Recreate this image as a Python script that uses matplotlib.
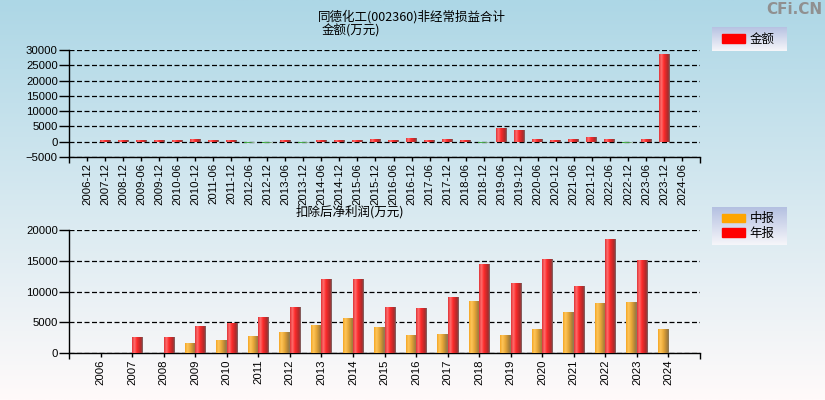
import numpy as np
import matplotlib
matplotlib.use("Agg")
import matplotlib.pyplot as plt
from matplotlib.colors import LinearSegmentedColormap
from matplotlib.patches import Patch

plt.rcParams['font.family'] = ['Noto Sans CJK SC', 'DejaVu Sans']

# ---------------- data ----------------
periods = ["2006-12", "2007-12", "2008-12", "2009-06", "2009-12", "2010-06", "2010-12",
           "2011-06", "2011-12", "2012-06", "2012-12", "2013-06", "2013-12", "2014-06",
           "2014-12", "2015-06", "2015-12", "2016-06", "2016-12", "2017-06", "2017-12",
           "2018-06", "2018-12", "2019-06", "2019-12", "2020-06", "2020-12", "2021-06",
           "2021-12", "2022-06", "2022-12", "2023-06", "2023-12", "2024-06"]
nonrecurring = [np.nan, 440, 440, 440, 440, 440, 760,
                440, 440, -440, -440, 440, -440, 440,
                440, 440, 760, 440, 1090, 440, 760,
                440, -440, 4360, 3920, 760, 440, 760,
                1420, 760, -440, 760, 28800, np.nan]

years = ["2006", "2007", "2008", "2009", "2010", "2011", "2012", "2013", "2014", "2015",
         "2016", "2017", "2018", "2019", "2020", "2021", "2022", "2023", "2024"]
half_year = [np.nan, np.nan, np.nan, 1630, 2110, 2760, 3410, 4550, 5690, 4230,
             2930, 3090, 8460, 2930, 3900, 6670, 8130, 8290, 3900]
annual = [np.nan, 2600, 2600, 4390, 4930, 5850, 7480, 12030, 12030, 7480,
          7320, 9100, 14470, 11380, 15280, 10890, 18540, 15120, np.nan]

title_main = "同德化工(002360)非经常损益合计"
title_top = "金额(万元)"
title_bottom = "扣除后净利润(万元)"

# ---------------- figure ----------------
W, H = 825, 400
fig = plt.figure(figsize=(W / 100, H / 100), dpi=100)

# background gradient
bg = fig.add_axes([0, 0, 1, 1], zorder=-10)
top_c = np.array([173, 215, 230]) / 255
bot_c = np.array([255, 250, 250]) / 255
t = np.linspace(0, 1, 256)[:, None]
grad = top_c[None, :] * (1 - t) + bot_c[None, :] * t
bg.imshow(grad[:, None, :].repeat(2, axis=1), aspect='auto', extent=(0, 1, 0, 1))
bg.set_axis_off()

red_cm = LinearSegmentedColormap.from_list(
    "red", [(0, '#e03236'), (0.22, '#ff6e6e'), (0.45, '#ff2a2a'), (0.85, '#a82a2a'), (1.0, '#7a7070')])
orange_cm = LinearSegmentedColormap.from_list(
    "orange", [(0, '#f5a623'), (0.22, '#ffc55a'), (0.5, '#e8a838'), (0.85, '#a87e38'), (1.0, '#8a7a60')])
green_cm = LinearSegmentedColormap.from_list(
    "green", [(0, '#2e9a2e'), (0.3, '#50b850'), (0.6, '#409040'), (1.0, '#c0c4c4')])

TICK_FONT = 'Liberation Sans'


def shade(ax, bars, cmap_pos, cmap_neg=None):
    g = np.linspace(0, 1, 64)[None, :]
    for p in bars.patches:
        x0, y0 = p.get_x(), p.get_y()
        w, h = p.get_width(), p.get_height()
        if not np.isfinite(h) or h == 0:
            continue
        cm = cmap_pos if (h > 0 or cmap_neg is None) else cmap_neg
        im = ax.imshow(g, cmap=cm, aspect='auto', extent=(x0, x0 + w, min(y0, y0 + h), max(y0, y0 + h)),
                       zorder=3, interpolation='bilinear')
        im.set_clip_path(p)


def style_axis(ax):
    ax.set_facecolor('none')
    for s in ['top', 'right']:
        ax.spines[s].set_visible(False)
    for s in ['left', 'bottom']:
        ax.spines[s].set_color('black')
        ax.spines[s].set_linewidth(1.0)
    ax.tick_params(axis='both', width=1, color='black', labelsize=8.2)
    ax.tick_params(axis='y', length=7, pad=1)
    ax.tick_params(axis='x', length=3, pad=1.5)
    ax.yaxis.grid(True, linestyle=(0, (4, 2)), color='black', linewidth=0.9)
    ax.set_axisbelow(True)


def set_tick_font(ax):
    for lab in ax.get_xticklabels() + ax.get_yticklabels():
        lab.set_family(TICK_FONT)


# ---------------- top chart ----------------
ax1 = fig.add_axes([69 / W, 1 - 157 / H, 631 / W, 107 / H])
style_axis(ax1)
x1 = np.arange(len(periods))
vals1 = np.array(nonrecurring, dtype=float)
colors1 = ['#ff2020' if (np.isfinite(v) and v >= 0) else '#30a030' for v in vals1]
b1 = ax1.bar(x1, vals1, width=0.6, color=colors1, zorder=2)
shade(ax1, b1, red_cm, green_cm)
ax1.set_xlim(-1, len(periods))
ax1.set_ylim(-5000, 30000)
ax1.set_yticks(np.arange(-5000, 30001, 5000))
ax1.set_xticks(x1)
ax1.set_xticklabels(periods, rotation=90)
ax1.set_xticks([-1, len(periods)], minor=True)
ax1.tick_params(axis='x', which='minor', length=4, width=1)
set_tick_font(ax1)

# ---------------- bottom chart ----------------
ax2 = fig.add_axes([69 / W, 1 - 353 / H, 631 / W, 123 / H])
style_axis(ax2)
x2 = np.arange(len(years))
bw = 0.33
b_half = ax2.bar(x2 - bw / 2, half_year, width=bw, color='#ffa500', zorder=2)
b_ann = ax2.bar(x2 + bw / 2, annual, width=bw, color='#ff2020', zorder=2)
shade(ax2, b_half, orange_cm)
shade(ax2, b_ann, red_cm)
ax2.set_xlim(-1, len(years))
ax2.set_ylim(0, 20000)
ax2.set_yticks(np.arange(0, 20001, 5000))
ax2.set_xticks(x2)
ax2.set_xticklabels(years, rotation=90)
ax2.set_xticks([-1, len(years)], minor=True)
ax2.tick_params(axis='x', which='minor', length=4, width=1)
set_tick_font(ax2)

# ---------------- titles ----------------
fig.text(412 / W, 1 - 17 / H, title_main, ha='center', va='center', fontsize=9)
fig.text(322 / W, 1 - 31 / H, title_top, ha='left', va='center', fontsize=9)
fig.text(350 / W, 1 - 212 / H, title_bottom, ha='center', va='center', fontsize=9)

# watermark
fig.text(822 / W, 1 - 10 / H, "CFi.CN", ha='right', va='center', fontsize=11,
         fontweight='bold', color='#909090', family='DejaVu Sans')


# ---------------- legends ----------------
def legend_box(rect, handles, labels):
    lax = fig.add_axes(rect, zorder=5)
    g = np.linspace(0, 1, 64)[:, None]
    c_top = np.array([180, 192, 225]) / 255
    c_bot = np.array([246, 246, 250]) / 255
    img = c_top[None, :] * (1 - g) + c_bot[None, :] * g
    lax.imshow(img[:, None, :].repeat(2, axis=1), aspect='auto', extent=(0, 1, 0, 1))
    lax.set_axis_off()
    lax.legend(handles, labels, loc='center left', frameon=False, fontsize=9,
               handlelength=1.8, handleheight=0.7, handletextpad=0.4,
               labelspacing=0.1, borderaxespad=0.3, bbox_to_anchor=(0.02, 0.5))


legend_box([712 / W, 1 - 51 / H, 75 / W, 24 / H],
           [Patch(color='#ff0000')], ["金额"])
legend_box([712 / W, 1 - 245 / H, 75 / W, 38 / H],
           [Patch(color='#ffa500'), Patch(color='#ff0000')], ["中报", "年报"])

fig.savefig("out.png", dpi=100)
